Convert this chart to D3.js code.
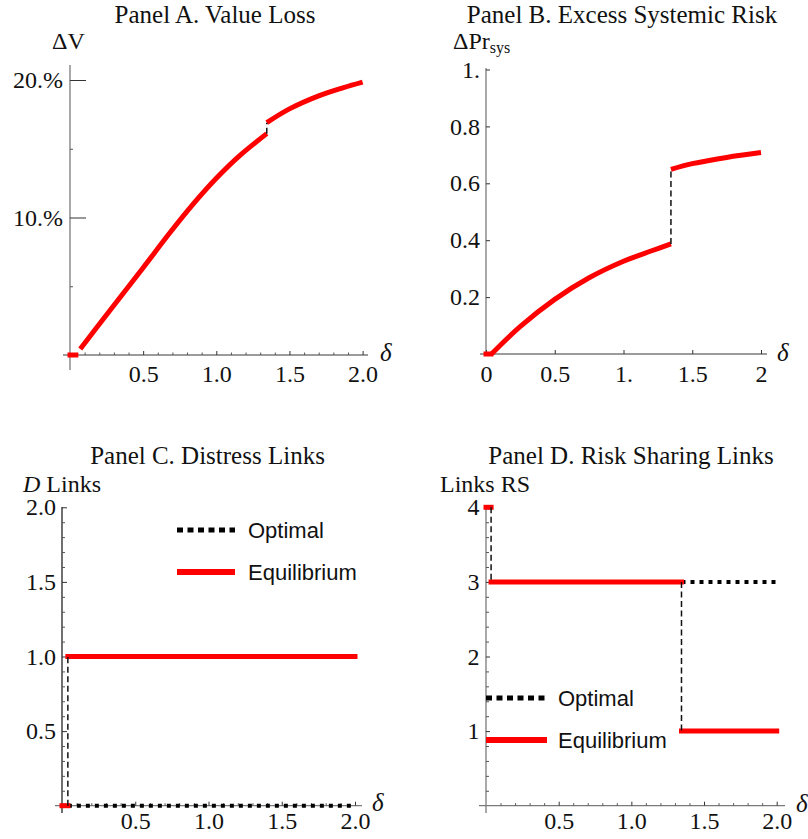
<!DOCTYPE html>
<html>
<head>
<meta charset="utf-8">
<script src="https://cdnjs.cloudflare.com/ajax/libs/d3/7.8.5/d3.min.js"></script>
<style>
body { margin: 0; background: #fff; }
svg text { font-family: "Liberation Serif", "Times New Roman", serif; fill: #111; }
svg .legend text { font-family: "Liberation Sans", Arial, sans-serif; }
</style>
</head>
<body>
<div id="chart"></div>
<script>
// ---- data ----
// Panel A: value loss (fraction), two branches split at the jump
var deltaA_flat = [0, 0.04];
var valueLoss_flat = [0, 0];
var deltaA_low = [0.07, 0.27, 0.5, 0.68, 0.84, 1.0, 1.16, 1.345];
var valueLoss_low = [0.0044, 0.032, 0.0635, 0.0885, 0.1095, 0.1285, 0.145, 0.161];
var deltaA_high = [1.345, 1.5, 1.7, 1.87, 2.0];
var valueLoss_high = [0.169, 0.179, 0.1885, 0.1945, 0.1985];

// Panel B: excess systemic risk
var deltaB_flat = [0, 0.035];
var excessRisk_flat = [0, 0];
var deltaB_low = [0.04, 0.25, 0.5, 0.75, 1.0, 1.2, 1.345];
var excessRisk_low = [0.0, 0.097, 0.192, 0.268, 0.326, 0.362, 0.387];
var deltaB_high = [1.345, 1.5, 1.75, 2.0];
var excessRisk_high = [0.649, 0.669, 0.691, 0.708];

// Panel C: distress links (step functions, value holds on [break i, break i+1])
var distressBreaks = [0, 0.04, 2.0];
var distressOptimal = [0, 0];
var distressEquilibrium = [0, 1];

// Panel D: risk sharing links
var sharingBreaks = [0, 0.035, 1.345, 2.0];
var sharingOptimal = [4, 3, 3];
var sharingEquilibrium = [4, 3, 1];

// tick labels
var xTicks = [0.5, 1.0, 1.5, 2.0];
var xLabels = ["0.5", "1.0", "1.5", "2.0"];
var aYTicks = [0.1, 0.2];
var aYLabels = ["10.%", "20.%"];
var bXTicks = [0, 0.5, 1, 1.5, 2];
var bXLabels = ["0", "0.5", "1.", "1.5", "2"];
var bYTicks = [0.2, 0.4, 0.6, 0.8, 1];
var bYLabels = ["0.2", "0.4", "0.6", "0.8", "1."];
var cYTicks = [0.5, 1.0, 1.5, 2.0];
var cYLabels = ["0.5", "1.0", "1.5", "2.0"];
var dYTicks = [1, 2, 3, 4];
var dYLabels = ["1", "2", "3", "4"];

var legendNames = ["Optimal", "Equilibrium"];
var titles = ["Panel A. Value Loss", "Panel B. Excess Systemic Risk",
              "Panel C. Distress Links", "Panel D. Risk Sharing Links"];

var red = "#ff0000";

var svg = d3.select("#chart")
    .append("svg")
    .attr("width", 808)
    .attr("height", 839);

svg.append("rect").attr("width", 808).attr("height", 839).attr("fill", "#fff");

function minorTicks(step, max, majors) {
    var out = [];
    for (var i = 1; i * step <= max + 1e-9; i++) {
        var v = +(i * step).toFixed(3);
        if (majors.indexOf(v) < 0) out.push(v);
    }
    return out;
}

function draw_axes(p) {
    var g = svg.append("g");
    // axis lines
    g.append("line")
        .attr("x1", p.xLine[0]).attr("x2", p.xLine[1])
        .attr("y1", p.y(0)).attr("y2", p.y(0))
        .attr("stroke", "#7a7a7a").attr("stroke-width", 1.3);
    g.append("line")
        .attr("x1", p.x(0)).attr("x2", p.x(0))
        .attr("y1", p.yLine[0]).attr("y2", p.yLine[1])
        .attr("stroke", p.yColor || "#7a7a7a").attr("stroke-width", 1.3);

    var xAxis = d3.axisBottom(p.x)
        .tickValues(p.xTicks)
        .tickFormat(function(d, i) { return p.xLabels[i]; })
        .tickSize(-p.xMajor)
        .tickPadding(p.xPad);
    var gx = g.append("g")
        .attr("transform", "translate(0," + p.y(0) + ")")
        .attr("color", "#333")
        .call(xAxis);
    gx.select(".domain").remove();
    gx.selectAll("text").style("font-size", "24px");

    if (p.xMinor) {
        var gxm = g.append("g")
            .attr("transform", "translate(0," + p.y(0) + ")")
            .attr("color", "#555")
            .call(d3.axisBottom(p.x).tickValues(p.xMinor).tickFormat("").tickSize(-2.5));
        gxm.select(".domain").remove();
    }

    var yAxis = d3.axisLeft(p.y)
        .tickValues(p.yTicks)
        .tickFormat(function(d, i) { return p.yLabels[i]; })
        .tickSize(-p.yMajor)
        .tickPadding(p.yPad);
    var gy = g.append("g")
        .attr("transform", "translate(" + p.x(0) + ",0)")
        .attr("color", "#333")
        .call(yAxis);
    gy.select(".domain").remove();
    gy.selectAll("text").style("font-size", "24px");

    if (p.yMinor) {
        var gym = g.append("g")
            .attr("transform", "translate(" + p.x(0) + ",0)")
            .attr("color", "#555")
            .call(d3.axisLeft(p.y).tickValues(p.yMinor).tickFormat("").tickSize(-3));
        gym.select(".domain").remove();
    }

    // title
    svg.append("text")
        .attr("x", p.title[0]).attr("y", p.title[1])
        .attr("text-anchor", "middle")
        .style("font-size", "25px")
        .text(p.titleText);

    // delta label
    svg.append("text")
        .attr("x", p.deltaPos[0]).attr("y", p.deltaPos[1])
        .style("font-size", "25px")
        .style("font-style", "italic")
        .text("δ");
}

function draw_curve(p, xs, ys) {
    var line = d3.line()
        .x(function(d) { return p.x(d[0]); })
        .y(function(d) { return p.y(d[1]); })
        .curve(d3.curveCatmullRom.alpha(0.5));
    svg.append("path")
        .datum(d3.zip(xs, ys))
        .attr("d", line)
        .attr("fill", "none")
        .attr("stroke", red)
        .attr("stroke-width", 5);
}

function draw_flat(p, xs, ys) {
    svg.append("line")
        .attr("x1", p.x(xs[0])).attr("x2", p.x(xs[1]))
        .attr("y1", p.y(ys[0])).attr("y2", p.y(ys[1]))
        .attr("stroke", red).attr("stroke-width", 5)
        .attr("stroke-linecap", "square");
}

function draw_jump(p, xv, y0, y1) {
    svg.append("line")
        .attr("x1", p.x(xv)).attr("x2", p.x(xv))
        .attr("y1", p.y(y0)).attr("y2", p.y(y1))
        .attr("stroke", "#111").attr("stroke-width", 1.5)
        .attr("stroke-dasharray", "6,3.5");
}

function draw_steps(p, breaks, values, kind) {
    var segs = values.map(function(v, i) { return { x0: breaks[i], x1: breaks[i + 1], v: v }; });
    svg.append("g").selectAll("line")
        .data(segs)
        .enter()
        .append("line")
        .attr("x1", function(d) { return p.x(d.x0); })
        .attr("x2", function(d) { return p.x(d.x1); })
        .attr("y1", function(d) { return p.y(d.v); })
        .attr("y2", function(d) { return p.y(d.v); })
        .attr("stroke", kind == "opt" ? "#000" : red)
        .attr("stroke-width", kind == "opt" ? 4 : 5)
        .attr("stroke-dasharray", kind == "opt" ? "4,5" : null)
        .attr("stroke-linecap", kind == "opt" ? "butt" : "square");
}

function draw_step_jumps(p, breaks, values) {
    for (var i = 1; i < values.length; i++) {
        if (values[i] != values[i - 1]) draw_jump(p, breaks[i], values[i - 1], values[i]);
    }
}

function draw_legend(x0, x1, tx, yOpt, yEq) {
    var g = svg.append("g").attr("class", "legend");
    g.append("line")
        .attr("x1", x0).attr("x2", x1).attr("y1", yOpt).attr("y2", yOpt)
        .attr("stroke", "#000").attr("stroke-width", 5)
        .attr("stroke-dasharray", "6,4.5");
    g.append("line")
        .attr("x1", x0).attr("x2", x1).attr("y1", yEq).attr("y2", yEq)
        .attr("stroke", red).attr("stroke-width", 6);
    g.append("text").attr("x", tx).attr("y", yOpt + 8).style("font-size", "22px").text(legendNames[0]);
    g.append("text").attr("x", tx).attr("y", yEq + 7.5).style("font-size", "22px").text(legendNames[1]);
}

// ---- Panel A ----
var pA = {
    x: d3.scaleLinear().domain([0, 2]).range([70, 362.6]),
    y: d3.scaleLinear().domain([0, 0.2]).range([355, 80]),
    xLine: [63, 368], yLine: [65, 370],
    xTicks: xTicks, xLabels: xLabels, xMinor: minorTicks(0.1, 2, xTicks), xMajor: 4, xPad: 10,
    yTicks: aYTicks, yLabels: aYLabels, yMinor: [0.05, 0.15], yMajor: 16, yPad: 7,
    title: [215, 23], titleText: titles[0], deltaPos: [380, 361]
};
draw_axes(pA);
svg.append("text").attr("x", 52).attr("y", 49).style("font-size", "24px").text("ΔV");
draw_flat(pA, deltaA_flat, valueLoss_flat);
draw_curve(pA, deltaA_low, valueLoss_low);
draw_curve(pA, deltaA_high, valueLoss_high);
draw_jump(pA, deltaA_low[deltaA_low.length - 1], valueLoss_low[valueLoss_low.length - 1], valueLoss_high[0]);

// ---- Panel B ----
var pB = {
    x: d3.scaleLinear().domain([0, 2]).range([486, 761]),
    y: d3.scaleLinear().domain([0, 1]).range([354, 69.5]),
    xLine: [480, 767], yLine: [68, 354],
    xTicks: bXTicks, xLabels: bXLabels, xMinor: null, xMajor: 4, xPad: 10.5,
    yTicks: bYTicks, yLabels: bYLabels, yMinor: null, yMajor: 4, yPad: 6,
    title: [622, 23], titleText: titles[1], deltaPos: [777, 361]
};
draw_axes(pB);
var lb = svg.append("text").attr("x", 453).attr("y", 49).style("font-size", "24px");
lb.append("tspan").text("ΔPr");
lb.append("tspan").attr("dy", 4).style("font-size", "16px").text("sys");
draw_flat(pB, deltaB_flat, excessRisk_flat);
draw_curve(pB, deltaB_low, excessRisk_low);
draw_curve(pB, deltaB_high, excessRisk_high);
draw_jump(pB, deltaB_low[deltaB_low.length - 1], excessRisk_low[excessRisk_low.length - 1], excessRisk_high[0]);

// ---- Panel C ----
var pC = {
    x: d3.scaleLinear().domain([0, 2]).range([62, 355]),
    y: d3.scaleLinear().domain([0, 2]).range([805.7, 507.3]),
    xLine: [55, 362], yLine: [507, 813], yColor: "#222",
    xTicks: xTicks, xLabels: xLabels, xMinor: minorTicks(0.1, 2, xTicks), xMajor: 4, xPad: 6,
    yTicks: cYTicks, yLabels: cYLabels, yMinor: minorTicks(0.1, 2, cYTicks), yMajor: 5, yPad: 6,
    title: [207.5, 464], titleText: titles[2], deltaPos: [372, 811]
};
draw_axes(pC);
var lc = svg.append("text").attr("x", 23).attr("y", 492).style("font-size", "24px");
lc.append("tspan").style("font-style", "italic").text("D");
lc.append("tspan").text(" Links");
draw_steps(pC, distressBreaks, distressOptimal, "opt");
draw_steps(pC, distressBreaks, distressEquilibrium, "eq");
draw_step_jumps(pC, distressBreaks, distressEquilibrium);
draw_legend(177, 235, 248, 530, 572);

// ---- Panel D ----
var pD = {
    x: d3.scaleLinear().domain([0, 2]).range([486, 776.7]),
    y: d3.scaleLinear().domain([0, 4]).range([805.7, 507.3]),
    xLine: [479, 785], yLine: [507, 813],
    xTicks: xTicks, xLabels: xLabels, xMinor: minorTicks(0.1, 2, xTicks), xMajor: 4, xPad: 6,
    yTicks: dYTicks, yLabels: dYLabels, yMinor: minorTicks(0.2, 4, dYTicks), yMajor: 4, yPad: 6.5,
    title: [631, 464], titleText: titles[3], deltaPos: [796, 812]
};
draw_axes(pD);
svg.append("text").attr("x", 440).attr("y", 492).style("font-size", "24px").text("Links RS");
draw_steps(pD, sharingBreaks, sharingOptimal, "opt");
draw_steps(pD, sharingBreaks, sharingEquilibrium, "eq");
draw_step_jumps(pD, sharingBreaks, sharingEquilibrium);
draw_legend(486, 547, 558, 698, 740);
</script>
</body>
</html>
